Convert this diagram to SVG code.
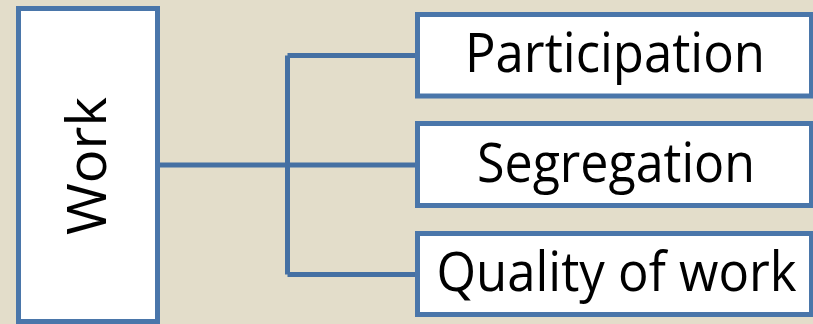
<svg xmlns="http://www.w3.org/2000/svg" width="813" height="324" viewBox="0 0 813 324">
<style>
.box{fill:#ffffff;stroke:#4a76aa;stroke-width:5}
.ln{fill:none;stroke:#4570a3;stroke-width:5}
.t{font-family:"Open Sans","Liberation Sans",sans-serif;font-size:54px;fill:#000;text-anchor:middle}
</style>
<rect width="813" height="324" fill="#e3ddca"/>
<g id="connectors">
<path class="ln" d="M160 165H417.5M287.5 55.5V274.5M287.5 55.5H417.5M287.5 274.5H417.5"/>
</g>
<g id="work">
<rect class="box" x="18.5" y="8.5" width="139" height="313"/>
<text class="t" x="106" y="166" transform="rotate(-90 106 166)" textLength="138" lengthAdjust="spacingAndGlyphs">Work</text>
</g>
<g id="participation">
<rect class="box" x="417.5" y="14.5" width="394" height="81.5"/>
<text class="t" x="615" y="72" textLength="300" lengthAdjust="spacingAndGlyphs">Participation</text>
</g>
<g id="segregation">
<rect class="box" x="417.5" y="123.5" width="394" height="82"/>
<text class="t" x="616" y="182" textLength="278" lengthAdjust="spacingAndGlyphs">Segregation</text>
</g>
<g id="quality">
<rect class="box" x="417.5" y="233.5" width="394" height="81"/>
<text class="t" x="616.5" y="291" textLength="360" lengthAdjust="spacingAndGlyphs">Quality of work</text>
</g>
</svg>
